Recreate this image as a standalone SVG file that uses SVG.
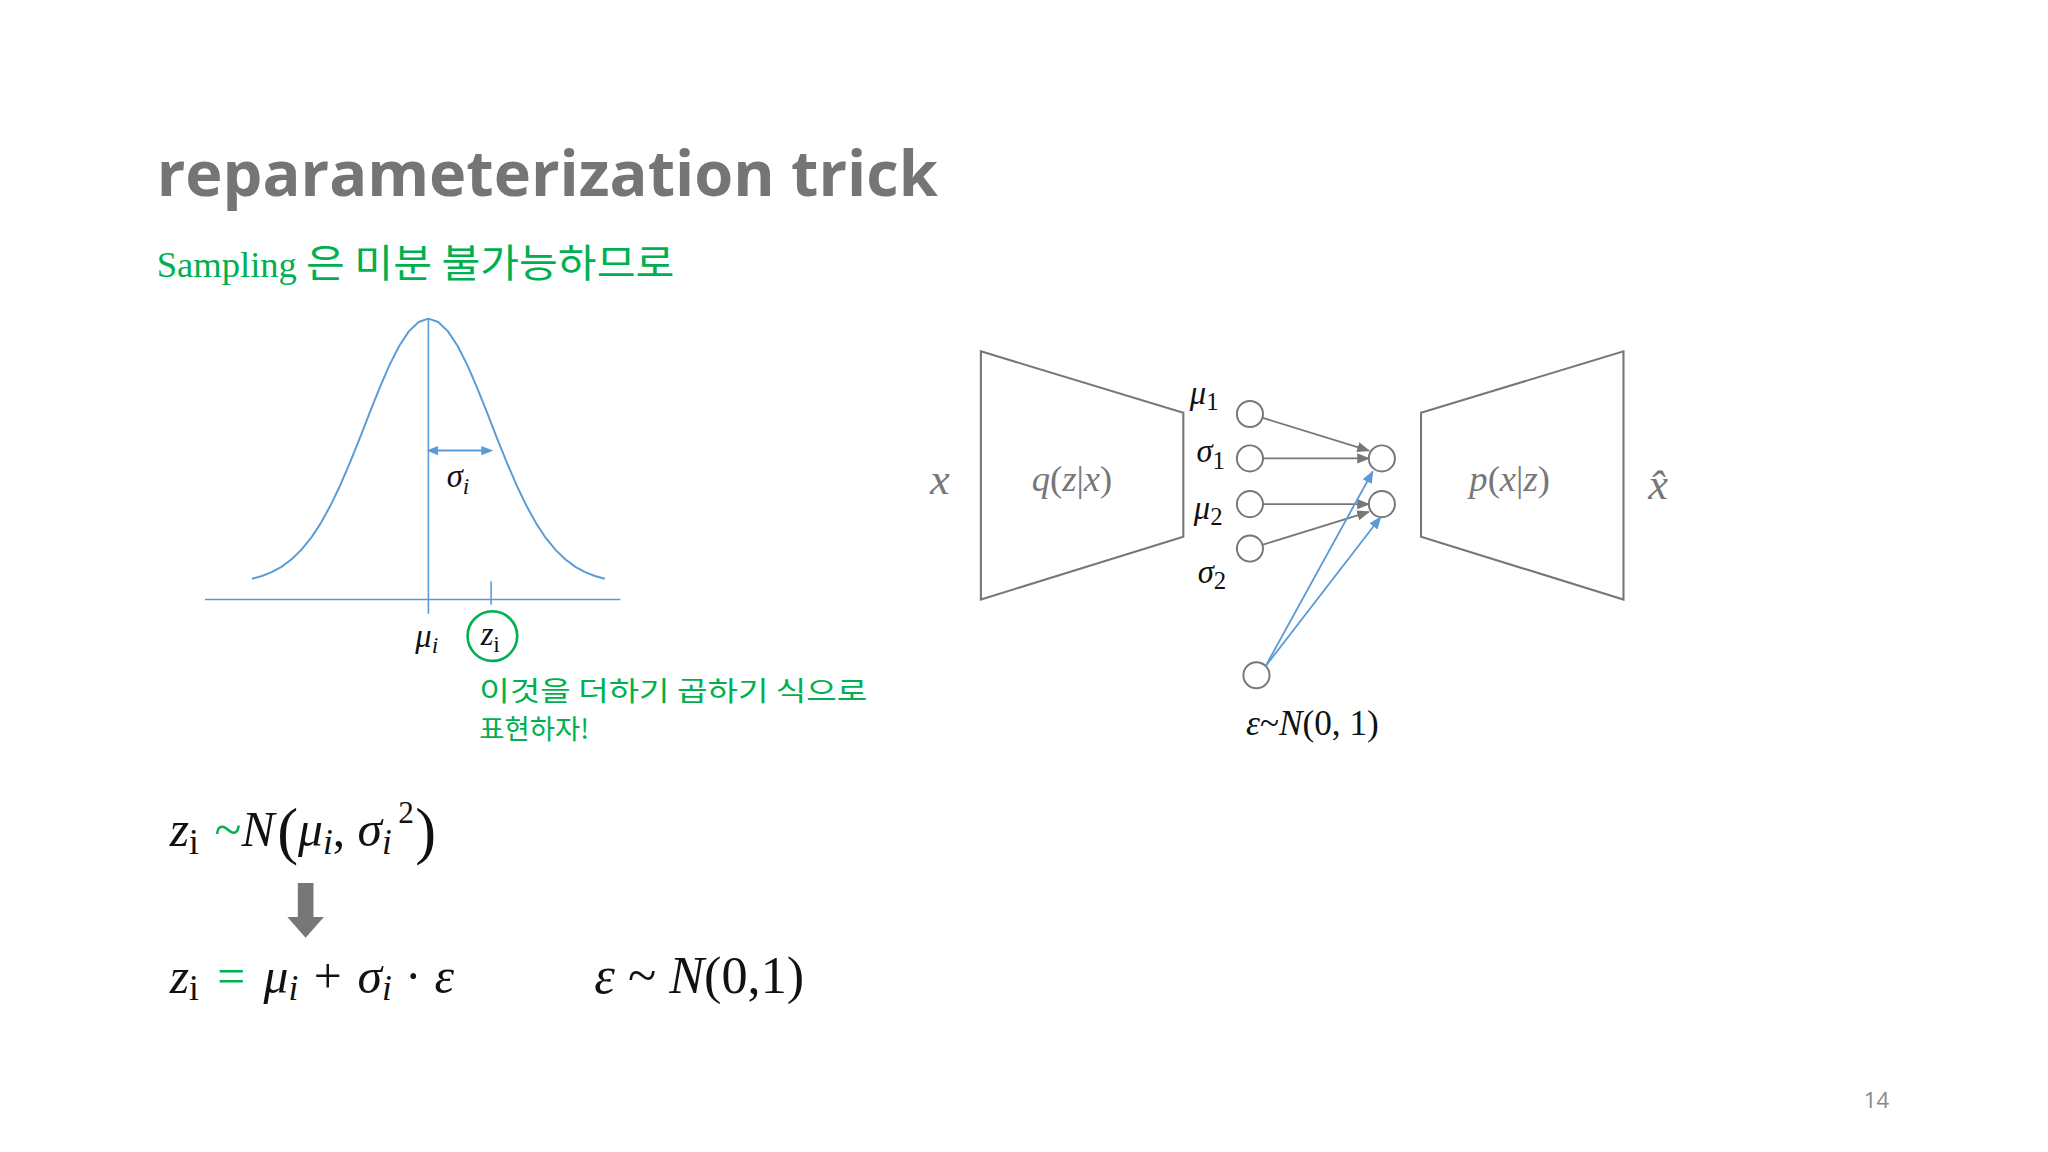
<svg xmlns="http://www.w3.org/2000/svg" width="2048" height="1152" viewBox="0 0 2048 1152">
<defs>
<style>
.m{font-family:"Liberation Serif",serif;font-style:italic;fill:#111}
.r{font-family:"Liberation Serif",serif;font-style:normal}
.g{fill:#00B050}
.gy{fill:#777}
.sh{fill:none;stroke:#777;stroke-width:1.6}
.nd{fill:#fff;stroke:#777;stroke-width:1.5}
.ga{stroke:#777;stroke-width:1.4;marker-end:url(#ag)}
.ba{stroke:#5B9BD5;stroke-width:1.4;marker-end:url(#ab)}
.k{font-family:"Noto Sans CJK KR","Noto Sans",sans-serif}
</style>
<marker id="ag" viewBox="0 0 10 10" refX="9" refY="5" markerWidth="7" markerHeight="7" orient="auto"><path d="M0,1L10,5L0,9z" fill="#777"/></marker>
<marker id="ab" viewBox="0 0 10 10" refX="9" refY="5" markerWidth="7" markerHeight="7" orient="auto"><path d="M0,1L10,5L0,9z" fill="#5B9BD5"/></marker>
<marker id="bs" viewBox="0 0 10 10" refX="5" refY="5" markerWidth="6" markerHeight="6" orient="auto-start-reverse"><path d="M0,1L10,5L0,9z" fill="#5B9BD5"/></marker>
</defs>
<rect width="2048" height="1152" fill="#fff"/>
<g transform="scale(1.3061)">
<g id="title">
<text x="120" y="150" font-family="'Open Sans','Noto Sans',sans-serif" font-weight="bold" font-size="48" fill="#757575" textLength="598" lengthAdjust="spacingAndGlyphs">reparameterization trick</text>
<text x="120" y="212" font-size="28" class="g"><tspan font-family="'Liberation Serif',serif">Sampling </tspan><tspan class="k" font-size="30" textLength="282" lengthAdjust="spacingAndGlyphs">은 미분 불가능하므로</tspan></text>
</g>
<g id="gaussian">
<line x1="157" y1="459" x2="475" y2="459" stroke="#5B9BD5" stroke-width="1.2"/>
<line x1="328" y1="244" x2="328" y2="470" stroke="#5B9BD5" stroke-width="1.2"/>
<line x1="376" y1="445" x2="376" y2="463" stroke="#5B9BD5" stroke-width="1.2"/>
<polyline fill="none" stroke="#5B9BD5" stroke-width="1.5" stroke-linejoin="round" points="193,443.1 200.5,441 208,438.1 215.5,434 223,428.4 230.5,421.2 238,412.1 245.5,400.7 253,387.1 260.5,371.5 268,354 275.5,335.4 283,316.1 290.5,297.4 298,279.9 305.5,265.1 313,253.7 320.5,246.5 328,244 335.5,246.5 343,253.7 350.5,265.1 358,279.9 365.5,297.4 373,316.1 380.5,335.4 388,354 395.5,371.5 403,387.1 410.5,400.7 418,412.1 425.5,421.2 433,428.4 440.5,434 448,438.1 455.5,441 463,443.1"/>
<line x1="331" y1="345" x2="373" y2="345" stroke="#5B9BD5" stroke-width="1.5" marker-start="url(#bs)" marker-end="url(#bs)"/>
<text x="342" y="373" class="m" font-size="25">σ<tspan font-size="18" dy="5">i</tspan></text>
<text x="318" y="495" class="m" font-size="25">μ<tspan font-size="18" dy="5">i</tspan></text>
<circle cx="377" cy="487" r="19" fill="none" stroke="#00B050" stroke-width="2"/>
<text x="368" y="494" class="m" font-size="25">z<tspan class="r" font-size="18" dy="5">i</tspan></text>
<text x="367" y="537" class="k g" font-size="21" textLength="297" lengthAdjust="spacingAndGlyphs">이것을 더하기 곱하기 식으로</text>
<text x="367" y="566" class="k g" font-size="21">표현하자!</text>
</g>
<g id="formulas">
<text x="130" y="648" class="m" font-size="38">z<tspan class="r" font-size="27" dy="6">i</tspan><tspan class="r g" dx="12" dy="-6">~</tspan>N<tspan class="r" font-size="48" dx="2" dy="4">(</tspan><tspan dy="-4">μ</tspan><tspan font-size="27" dy="6">i</tspan><tspan class="r" dy="-6">, </tspan>σ<tspan font-size="27" dy="6">i</tspan></text>
<text x="305" y="630" class="r" font-size="24" fill="#111">2</text>
<text x="318" y="652" class="r" font-size="48" fill="#111">)</text>
<path d="M228,676h12v26h8l-14,16l-14,-16h8z" fill="#777"/>
<text x="130" y="760" class="m" font-size="38">z<tspan class="r" font-size="27" dy="6">i</tspan><tspan class="r g" dx="14" dy="-6">=</tspan><tspan dx="14">μ</tspan><tspan font-size="27" dy="6">i</tspan><tspan class="r" dx="12" dy="-6">+</tspan><tspan dx="12">σ</tspan><tspan font-size="27" dy="6">i</tspan><tspan class="r" dx="10" dy="-6">·</tspan><tspan dx="10">ε</tspan></text>
<text x="455" y="760" class="m" font-size="40">ε <tspan class="r">~</tspan> N<tspan class="r">(0,1)</tspan></text>
</g>
<g id="encoder">
<polygon class="sh" points="751,269 906,316 906,411 751,459"/>
<text x="790" y="376" class="m gy" font-size="28" style="fill:#777">q<tspan class="r">(</tspan>z<tspan class="r">|</tspan>x<tspan class="r">)</tspan></text>
<text x="712" y="378" class="m" font-size="34" style="fill:#777">x</text>
</g>
<g id="decoder">
<polygon class="sh" points="1088,316 1243,269 1243,459 1088,411"/>
<text x="1125" y="376" class="m" font-size="28" style="fill:#777">p<tspan class="r">(</tspan>x<tspan class="r">|</tspan>z<tspan class="r">)</tspan></text>
<text x="1262" y="382" class="m" font-size="34" style="fill:#777">x̂</text>
</g>
<g id="nodes">
<circle class="nd" cx="957" cy="317" r="10"/>
<circle class="nd" cx="957" cy="351" r="10"/>
<circle class="nd" cx="957" cy="386" r="10"/>
<circle class="nd" cx="957" cy="420" r="10"/>
<circle class="nd" cx="1058" cy="351" r="10"/>
<circle class="nd" cx="1058" cy="386" r="10"/>
<circle class="nd" cx="962" cy="517" r="10"/>
<text x="911" y="309" class="m" font-size="25">μ<tspan class="r" font-size="19" dy="5">1</tspan></text>
<text x="916" y="354" class="m" font-size="25">σ<tspan class="r" font-size="19" dy="5">1</tspan></text>
<text x="914" y="397" class="m" font-size="25">μ<tspan class="r" font-size="19" dy="5">2</tspan></text>
<text x="917" y="446" class="m" font-size="25">σ<tspan class="r" font-size="19" dy="5">2</tspan></text>
<text x="954" y="563" class="m" font-size="27">ε<tspan class="r">~</tspan>N<tspan class="r">(0, 1)</tspan></text>
</g>
<g id="connectors">
<line class="ga" x1="967" y1="320" x2="1048" y2="345"/>
<line class="ga" x1="967" y1="351" x2="1048" y2="351"/>
<line class="ga" x1="967" y1="386" x2="1048" y2="386"/>
<line class="ga" x1="967" y1="417" x2="1048" y2="392"/>
<line class="ba" x1="969" y1="510" x2="1051" y2="361"/>
<line class="ba" x1="969" y1="510" x2="1057" y2="396"/>
</g>
<text x="1427" y="848" font-family="'Open Sans',sans-serif" font-size="17" fill="#888">14</text>
</g>
</svg>
